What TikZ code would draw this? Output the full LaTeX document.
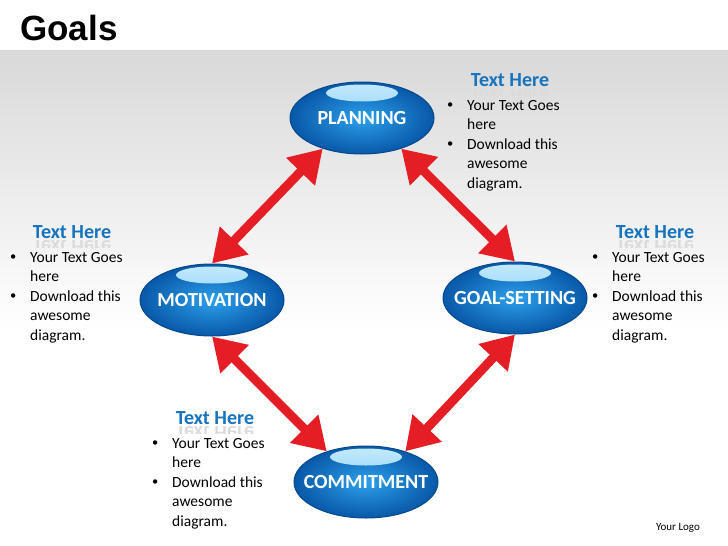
\documentclass[tikz,border=0pt]{standalone}
\usepackage{fontspec}
\setmainfont{Carlito}
\newfontfamily\headfont{Liberation Sans}
\usepackage{tikz}
\usetikzlibrary{shapes.geometric, arrows.meta, positioning, calc}

\definecolor{stagelight}{RGB}{45,160,235}
\definecolor{stagedark}{RGB}{8,88,168}
\definecolor{stagerim}{RGB}{6,72,140}
\definecolor{stageglow}{RGB}{170,225,252}
\definecolor{titleblue}{RGB}{22,115,190}
\definecolor{arrowred}{RGB}{228,30,36}

\newcommand{\dotmark}{{\fontsize{12.5}{14}\selectfont\raisebox{1.2pt}{\textbullet}}}
\newcommand{\pointlist}{\begin{tabular}[t]{@{}p{20pt}@{}l@{}}\dotmark & Your Text Goes\\ & here\\ \dotmark & Download this\\ & awesome\\ & diagram.\end{tabular}}

\begin{document}
\begin{tikzpicture}[
    x=1pt, y=-1pt,
    stage/.style={ellipse, draw=stagerim, line width=1pt, inner color=stagelight, outer color=stagedark,
        minimum width=144pt, minimum height=72pt, inner xsep=-12pt, text=white,
        font=\bfseries\fontsize{20}{23}\selectfont,
        path picture={\shade[top color=stageglow!70!white, bottom color=stageglow!50!stagelight]
            ([yshift=-11pt]path picture bounding box.north) ellipse [x radius=36pt, y radius=8.5pt];}},
    heading/.style={text=titleblue, font=\bfseries\fontsize{20}{23}\selectfont, anchor=base},
    mirror/.style={heading, text=black!14, yscale=-1},
    points/.style={anchor=base west, inner sep=0pt, font=\fontsize{15.5}{19.5}\selectfont},
    twoway/.style={{Triangle[length=32pt,width=38pt]}-{Triangle[length=32pt,width=38pt]}, line width=9pt, draw=arrowred}
]
\useasboundingbox (0,0) rectangle (728,546);

% background
\fill[white] (0,0) rectangle (728,546);
\shade[top color=black!15, bottom color=white] (0,50) rectangle (728,330);

% title and logo
\node[anchor=base west, inner sep=0pt, font=\headfont\bfseries\fontsize{35}{40}\selectfont] (title) at (20,40) {Goals};
\node[anchor=base, font=\fontsize{11}{13}\selectfont] (logo) at (678,530) {Your Logo};

% stages
\node[stage] (plan) at (362,118) {PLANNING};
\node[stage] (mot) at (212,300) {MOTIVATION};
\node[stage] (goal) at (515,298) {GOAL-SETTING};
\node[stage] (commit) at (366,482) {COMMITMENT};

% arrows
\draw[twoway] (mot.north) -- (plan.218);
\draw[twoway] (plan.-38) -- (goal.north);
\draw[twoway] (mot.south) -- (commit.142);
\draw[twoway] (commit.38) -- (goal.south);

% text blocks
\node[heading] (planhead) at (510,86) {Text Here};
\node[points] (planlist) at (447,110) {\pointlist};
\node[heading] (mothead) at (72,238) {Text Here};
\node[points] (motlist) at (10,262) {\pointlist};
\node[heading] (goalhead) at (655,238) {Text Here};
\node[points] (goallist) at (592,262) {\pointlist};
\node[heading] (commithead) at (215,424) {Text Here};
\node[points] (commitlist) at (152,448) {\pointlist};

% reflections
\begin{scope}
\clip (440,88) rectangle (580,95);
\node[mirror] (planecho) at (510,88) {Text Here};
\end{scope}
\begin{scope}
\clip (0,240) rectangle (145,247);
\node[mirror] (motecho) at (72,240) {Text Here};
\end{scope}
\begin{scope}
\clip (585,240) rectangle (728,247);
\node[mirror] (goalecho) at (655,240) {Text Here};
\end{scope}
\begin{scope}
\clip (145,426) rectangle (290,433);
\node[mirror] (commitecho) at (215,426) {Text Here};
\end{scope}

\end{tikzpicture}
\end{document}
